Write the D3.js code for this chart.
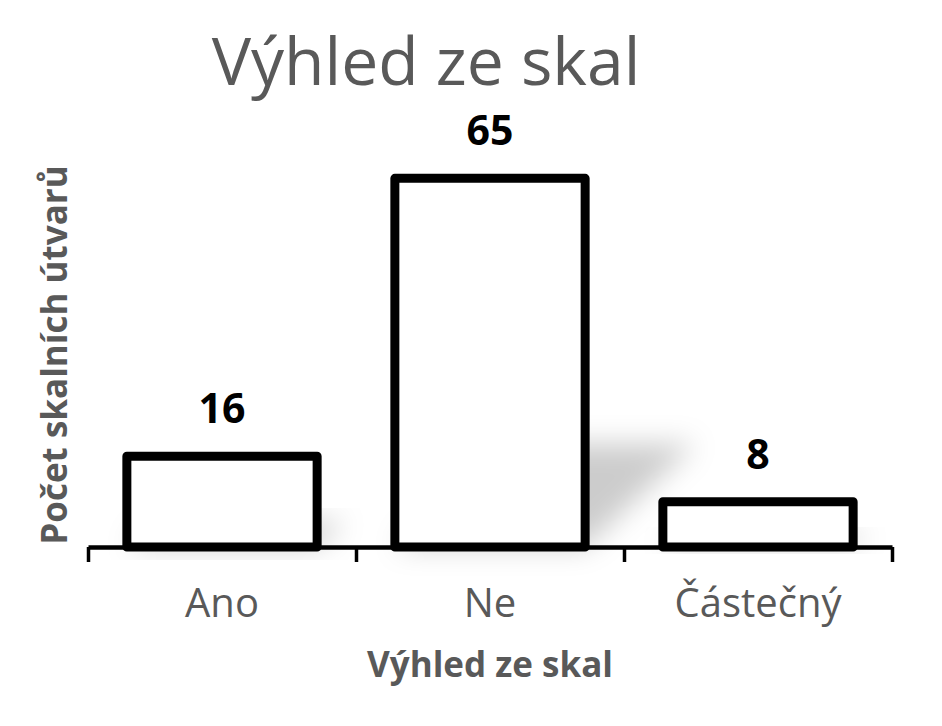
<!DOCTYPE html>
<html>
<head>
<meta charset="utf-8">
<script src="https://cdn.jsdelivr.net/npm/d3@7"></script>
<style>
    body { margin: 0; background: #fff; }
    text { font-family: "Open Sans", "Noto Sans", sans-serif; }
</style>
</head>
<body>
<div id="chart"></div>
<script>
var categories = ["Ano", "Ne", "Částečný"];
var values = [16, 65, 8];
var chartTitle = "Výhled ze skal";
var xTitle = "Výhled ze skal";
var yTitle = "Počet skalních útvarů";

var width = 942, height = 726;
var baseY = 547;

var svg = d3.select("#chart")
    .append("svg")
    .attr("width", width)
    .attr("height", height);

// blur for the soft shadow behind bars
var defs = svg.append("defs");
defs.append("filter")
    .attr("id", "shadowBlur")
    .attr("x", "-50%").attr("y", "-50%")
    .attr("width", "200%").attr("height", "200%")
    .append("feGaussianBlur")
    .attr("stdDeviation", 14);

var x = d3.scaleBand()
    .domain(categories)
    .range([88, 892])
    .paddingInner(0.29)
    .paddingOuter(0.145);

var y = d3.scaleLinear()
    .domain([0, 70])
    .range([baseY, 150]);

// title
svg.append("text")
    .attr("x", 426)
    .attr("y", 85)
    .attr("text-anchor", "middle")
    .attr("fill", "#595959")
    .style("font-size", "66px")
    .text(chartTitle);

// shadows (perspective, upper right)
svg.selectAll(".shadow")
    .data(values)
    .enter()
    .append("polygon")
    .attr("class", "shadow")
    .attr("points", function (d, i) {
        var x0 = x(categories[i]), x1 = x0 + x.bandwidth();
        var h = baseY - y(d);
        var dx = h * 0.3, dy = h * 0.28;
        return [[x0, baseY], [x1, baseY], [x1 + dx, baseY - dy], [x0 + dx, baseY - dy]].join(" ");
    })
    .attr("fill", "#000")
    .attr("fill-opacity", 0.2)
    .attr("filter", "url(#shadowBlur)");

// bars
svg.selectAll(".bar")
    .data(values)
    .enter()
    .append("rect")
    .attr("class", "bar")
    .attr("x", function (d, i) { return x(categories[i]); })
    .attr("y", function (d) { return y(d); })
    .attr("width", x.bandwidth())
    .attr("height", function (d) { return baseY - y(d); })
    .attr("fill", "#fff")
    .attr("stroke", "#000")
    .attr("stroke-width", 9)
    .attr("stroke-linejoin", "round");

// value labels
svg.selectAll(".val")
    .data(values)
    .enter()
    .append("text")
    .attr("class", "val")
    .attr("x", function (d, i) { return x(categories[i]) + x.bandwidth() / 2; })
    .attr("y", function (d) { return y(d) - 33; })
    .attr("text-anchor", "middle")
    .attr("fill", "#000")
    .style("font-size", "41px")
    .style("font-weight", "bold")
    .text(function (d) { return d; });

// x axis: category labels
var xAxis = svg.append("g")
    .attr("transform", "translate(0," + baseY + ")")
    .call(d3.axisBottom(x).tickSize(0).tickPadding(42));
xAxis.select(".domain").remove();
xAxis.selectAll("text")
    .attr("fill", "#595959")
    .style("font-size", "40px")
    .style("font-family", "'Open Sans', 'Noto Sans', sans-serif");

// x axis line with ticks between categories
var edges = d3.range(categories.length + 1).map(function (i) {
    return x.range()[0] + i * x.step();
});
var edgeScale = d3.scaleLinear().domain(x.range()).range(x.range());
var edgeAxis = svg.append("g")
    .attr("transform", "translate(0," + baseY + ")")
    .call(d3.axisBottom(edgeScale).tickValues(edges).tickFormat("").tickSizeInner(15).tickSizeOuter(0));
edgeAxis.select(".domain")
    .attr("stroke", "#000")
    .attr("stroke-width", 4.5);
edgeAxis.selectAll(".tick line")
    .attr("stroke", "#000")
    .attr("stroke-width", 3.5);

// axis titles
svg.append("text")
    .attr("x", 490)
    .attr("y", 677)
    .attr("text-anchor", "middle")
    .attr("fill", "#595959")
    .style("font-size", "35px")
    .style("font-weight", "bold")
    .text(xTitle);

svg.append("text")
    .attr("transform", "translate(67,355) rotate(-90)")
    .attr("text-anchor", "middle")
    .attr("fill", "#595959")
    .style("font-size", "35px")
    .style("font-weight", "bold")
    .text(yTitle);
</script>
</body>
</html>
